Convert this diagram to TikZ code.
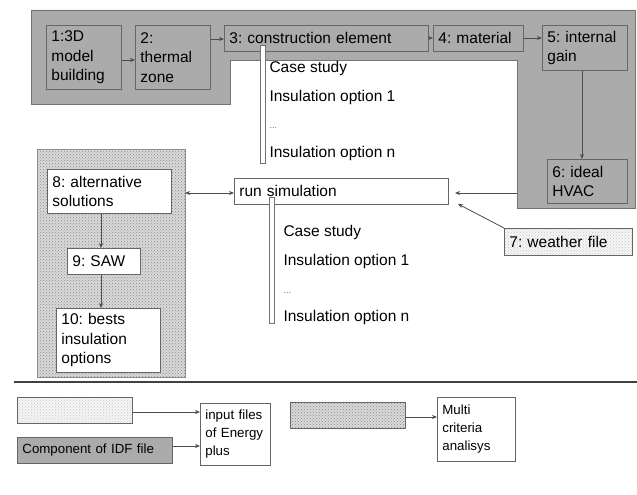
\documentclass[tikz,border=0pt]{standalone}
\usepackage{fontspec}
\setmainfont{Liberation Sans}
\usetikzlibrary{arrows.meta,patterns}
\frenchspacing

\begin{document}
\begin{tikzpicture}[x=1pt,y=-1pt,
    font=\fontsize{15.5}{19.5}\selectfont,
    >={Stealth[length=5pt,width=4pt]},
    box/.style={draw=black!60, line width=0.8pt, anchor=north west, align=left,
        inner sep=5pt, minimum width=#1, text width=#1-10pt},
    idf/.style={box=#1, fill=black!33},
    mca/.style={box=#1, fill=white},
    legtext/.style={font=\fontsize{13.3}{18}\selectfont},
    weather/.style={preaction={fill=black!4}, pattern=crosshatch dots, pattern color=black!22},
    darkdots/.style={preaction={fill=black!15}, pattern=crosshatch dots, pattern color=black!45},
    caselist/.style={draw=black!55, fill=white, line width=0.6pt},
    conn/.style={->, black!70, line width=0.8pt}]
    \useasboundingbox (0,0) rectangle (637,495);

    % Component of IDF file region
    \draw[black!55, line width=0.8pt, fill=black!33]
        (31,10) -- (635,10) -- (635,208) -- (517,208) -- (517,60)
        -- (230,60) -- (230,104) -- (31,104) -- cycle;
    \fill[white] (231,61) rectangle (516,207);

    % Multi criteria region
    \draw[black!45, line width=0.8pt, darkdots] (37,149) rectangle (185,377);

    % IDF components
    \node[idf=75pt, minimum height=64pt] (model) at (46,25) {1:3D\\model\\building};
    \node[idf=75pt, minimum height=64pt] (zone) at (135,25) {2:\\thermal\\zone};
    \node[idf=204pt, minimum height=26pt, inner ysep=3pt] (constr) at (224,25) {3: construction element};
    \node[idf=90pt, minimum height=26pt, inner ysep=3pt] (mat) at (433,25) {4: material};
    \node[idf=85pt, minimum height=45pt, inner ysep=3pt] (gain) at (542,25) {5: internal\\gain};
    \node[idf=80pt, minimum height=44pt, inner ysep=3pt] (hvac) at (547,159) {6: ideal\\HVAC};

    % Simulation
    \node[mca=214pt, minimum height=26pt, inner ysep=3pt] (sim) at (234,178) {run simulation};
    \node[box=128pt, minimum height=27pt, inner ysep=3pt, weather] (weather) at (504,228) {7: weather file};
    \coordinate (idfedge) at (517,193);
    \coordinate (simin) at (455,193);
    \coordinate (weatherin) at (458,204);

    % Multi criteria analysis
    \node[mca=124pt, minimum height=44pt, inner ysep=3pt] (alt) at (47,169) {8: alternative\\solutions};
    \node[mca=73pt, minimum height=26pt, inner ysep=3pt] (saw) at (67,248) {9: SAW};
    \node[mca=104pt, minimum height=64pt, inner ysep=3pt] (best) at (56,308) {10: bests\\insulation\\options};

    % Case study lists
    \draw[caselist] (260,45) rectangle (265,163);
    \node[anchor=west] (caseA) at (266,68) {Case study};
    \node[anchor=west] (optA1) at (266,97) {Insulation option 1};
    \node[anchor=west, font=\fontsize{9}{10}\selectfont, black!60] (dotsA) at (266,128) {...};
    \node[anchor=west] (optAn) at (266,153) {Insulation option n};

    \draw[caselist] (269,197) rectangle (274,323);
    \node[anchor=west] (caseB) at (280,232) {Case study};
    \node[anchor=west] (optB1) at (280,261) {Insulation option 1};
    \node[anchor=west, font=\fontsize{9}{10}\selectfont, black!60] (dotsB) at (280,293) {...};
    \node[anchor=west] (optBn) at (280,317) {Insulation option n};

    % Connectors
    \draw[conn] (model.east |- 0,60) -- (zone.west |- 0,60);
    \draw[conn] (zone.east |- 0,39) -- (constr.west |- 0,39);
    \draw[conn] (constr.east |- 0,38) -- (mat.west |- 0,38);
    \draw[conn] (mat.east |- 0,38) -- (gain.west |- 0,38);
    \draw[conn] (gain.south -| 582,0) -- (hvac.north -| 582,0);
    \draw[conn] (idfedge) -- (simin);
    \draw[conn] (weather.north west) -- (weatherin);
    \draw[conn, <->] (185,193) -- (sim.west |- 0,193);
    \draw[conn] (alt.south -| 101,0) -- (saw.north -| 101,0);
    \draw[conn] (saw.south -| 101,0) -- (best.north -| 101,0);

    % Separator
    \draw[black!75, line width=1.8pt] (14,382) -- (637,382);

    % Legend
    \node[box=115pt, minimum height=26pt, weather] (legweather) at (17,397) {};
    \node[idf=155pt, minimum height=26pt, inner ysep=3pt, legtext] (legidf) at (17,437) {Component of IDF file};
    \node[mca=70pt, minimum height=62pt, inner ysep=2pt, legtext] (input) at (200,403) {input files\\of Energy\\plus};
    \node[box=115pt, minimum height=26pt, darkdots] (legmca) at (290,402) {};
    \node[mca=78pt, minimum height=64pt, inner ysep=2pt, legtext] (multi) at (437,397) {Multi\\criteria\\analisys};

    \draw[conn] (legweather.east |- 0,412) -- (input.west |- 0,412);
    \draw[conn] (legidf.east |- 0,446) -- (input.west |- 0,446);
    \draw[conn] (legmca.east |- 0,417) -- (multi.west |- 0,417);
\end{tikzpicture}
\end{document}
